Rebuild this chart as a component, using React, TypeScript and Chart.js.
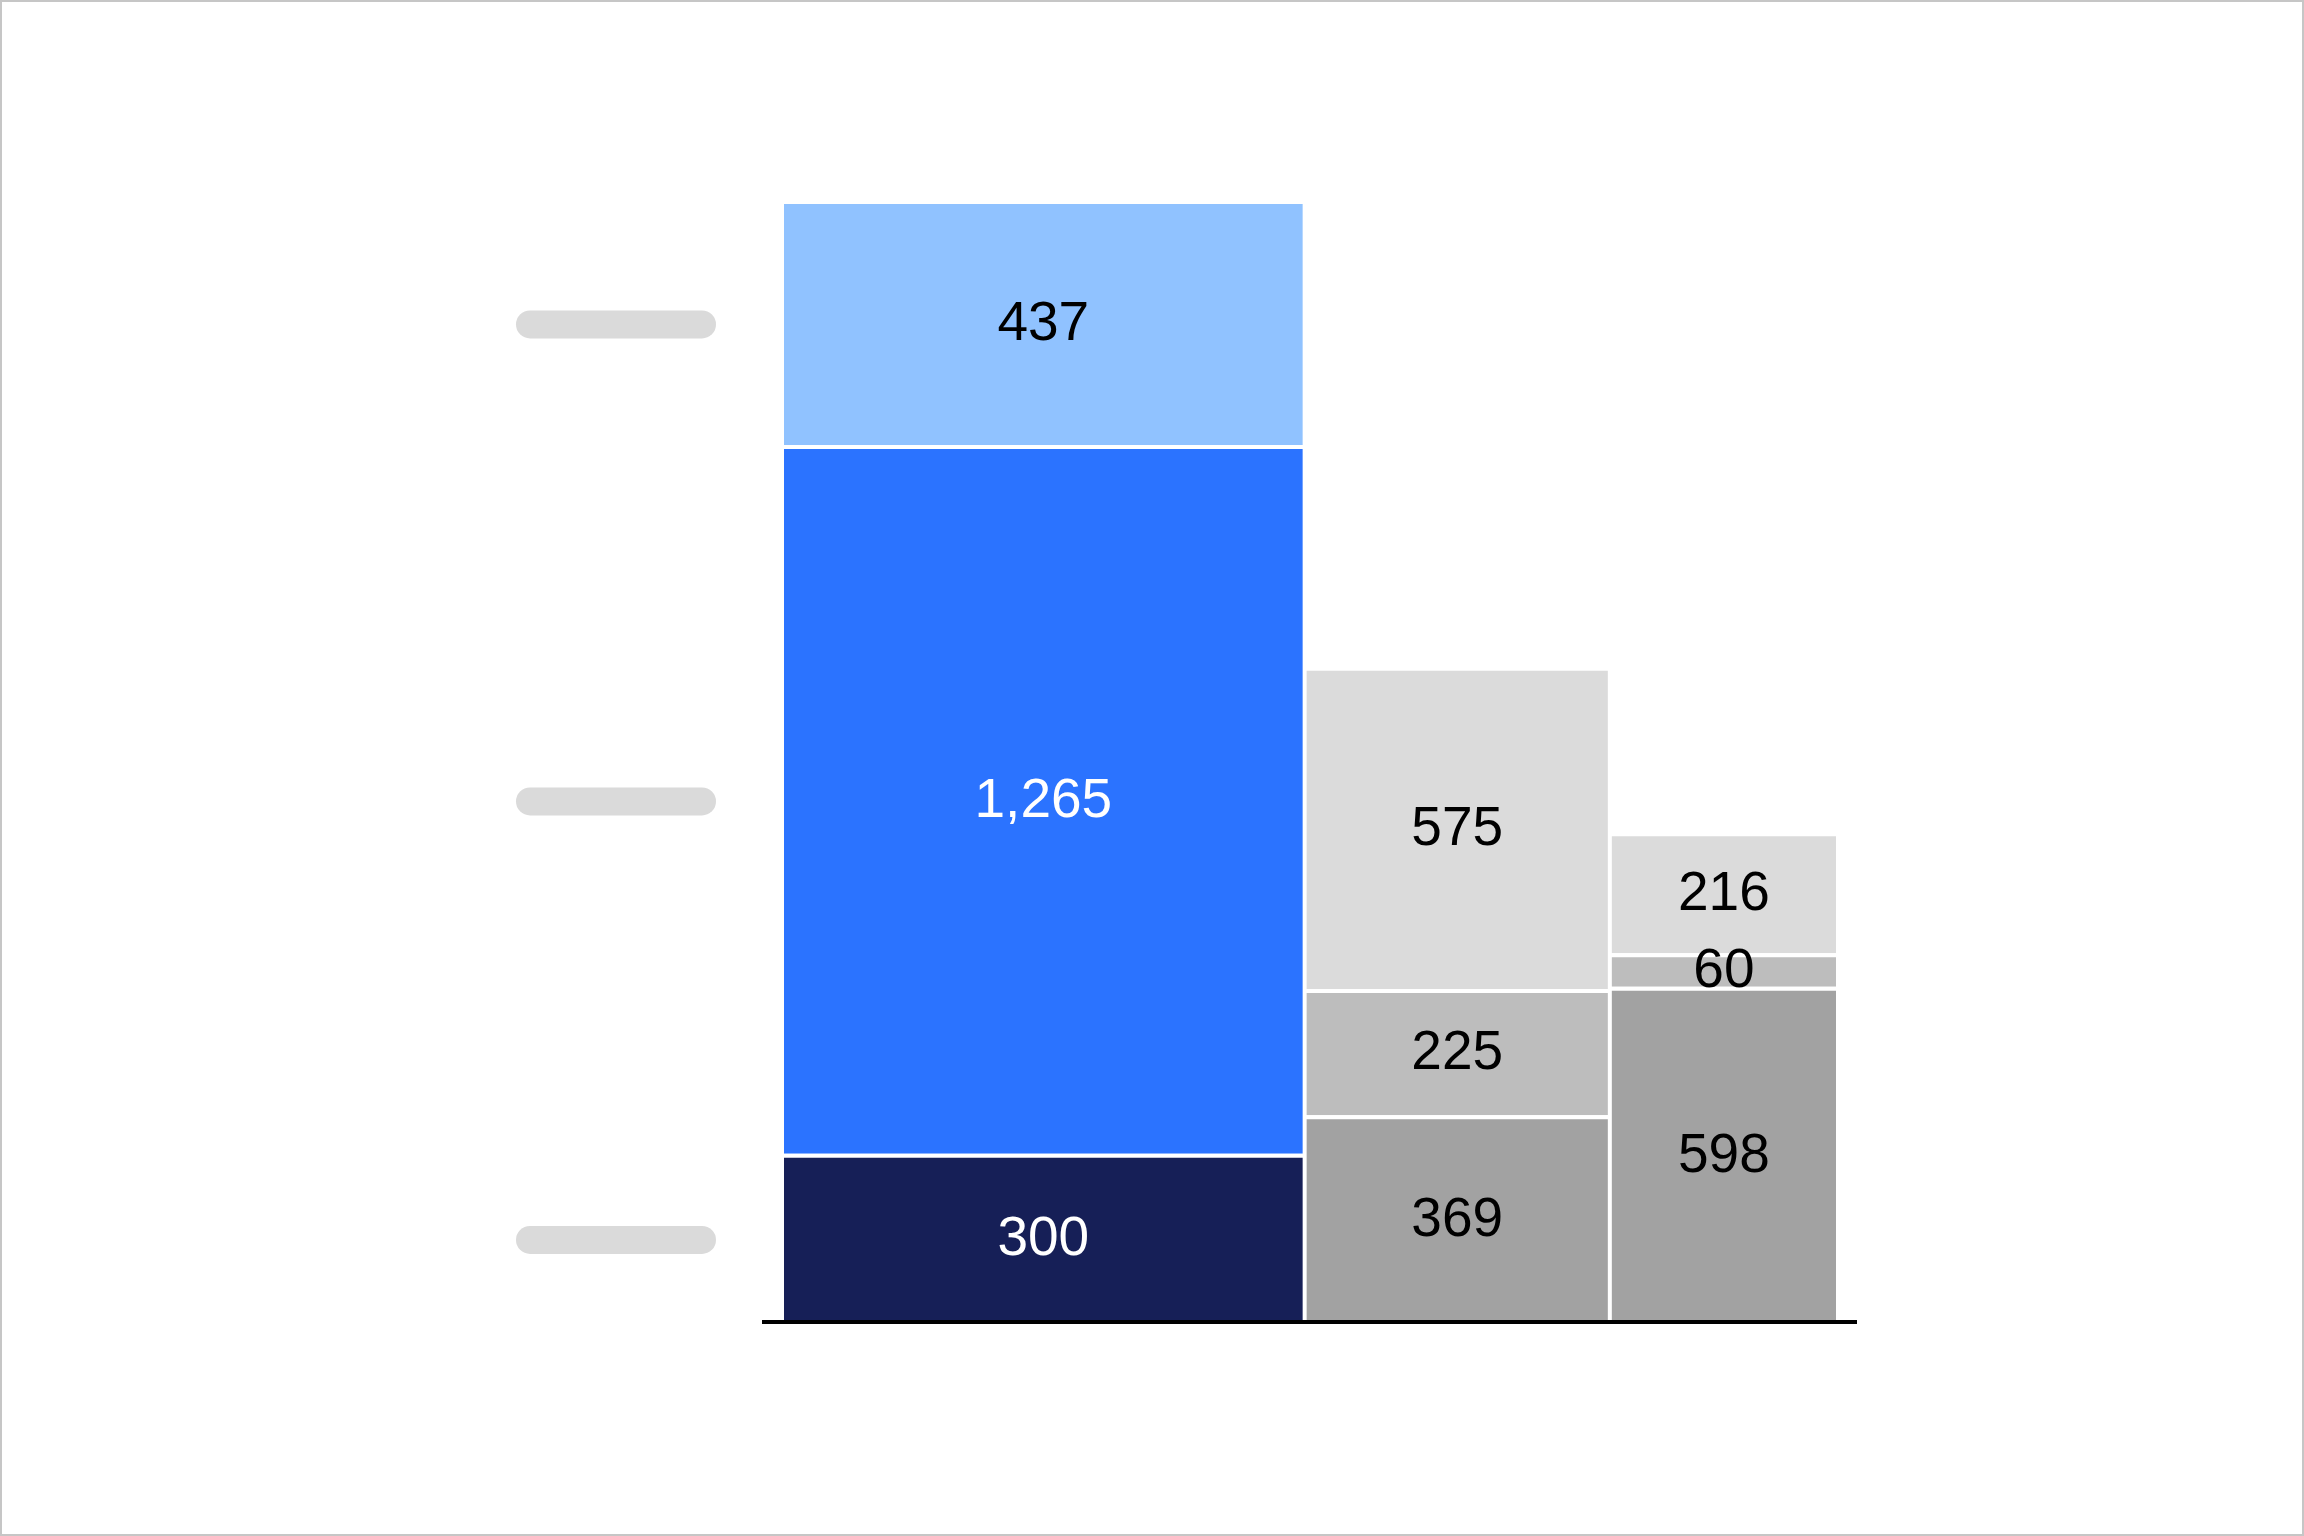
import { useEffect, useRef } from "react";
import { Chart, registerables } from "chart.js";

Chart.register(...registerables);

// one array per column, bottom segment first
const column1 = [300, 1265, 437];
const column2 = [369, 225, 575];
const column3 = [598, 60, 216];
const columns = [column1, column2, column3];

const column1Colors = ["#161F57", "#2B73FF", "#90C2FF"];
const greyColors = ["#A2A2A2", "#BDBDBD", "#DBDBDB"];
const column1LabelColors = ["#FFFFFF", "#FFFFFF", "#000000"];
const greyLabelColors = ["#000000", "#000000", "#000000"];

const sum = (arr: number[]) => arr.reduce((a, b) => a + b, 0);
const totals = columns.map(sum);
const grandTotal = sum(totals);
const starts = totals.map((_, i) => sum(totals.slice(0, i)));

const segmentLabels = {
  id: "segmentLabels",
  afterDatasetsDraw(chart: Chart) {
    const { ctx } = chart;
    ctx.save();
    ctx.font = '55px "Liberation Sans", Arial, sans-serif';
    ctx.textAlign = "center";
    ctx.textBaseline = "middle";
    chart.data.datasets.forEach((ds: any, i) => {
      const meta = chart.getDatasetMeta(i);
      const el: any = meta.data[0];
      if (!el) return;
      const value = (ds.data[0] as any).y as number;
      ctx.fillStyle = ds.labelColor;
      ctx.fillText(value.toLocaleString("en-US"), el.x, (el.y + 4 + el.base) / 2);
    });
    ctx.restore();
  },
};

// grey rounded placeholders standing in for the first column's series names
const placeholders = {
  id: "placeholders",
  afterDraw(chart: Chart) {
    const { ctx } = chart;
    ctx.save();
    ctx.fillStyle = "#DADADA";
    column1.forEach((_, s) => {
      const el: any = chart.getDatasetMeta(s).data[0];
      if (!el) return;
      const cy = (el.y + 4 + el.base) / 2;
      const x = 516;
      const w = 200;
      const h = 28;
      ctx.beginPath();
      ctx.roundRect(x, cy - h / 2, w, h, h / 2);
      ctx.fill();
    });
    ctx.restore();
  },
};

export default function App() {
  const chartRef = useRef<HTMLCanvasElement>(null);

  useEffect(() => {
    if (!chartRef.current) return;
    const ctx = chartRef.current.getContext("2d");
    if (!ctx) return;

    const datasets: any[] = [];
    columns.forEach((col, c) => {
      col.forEach((value, s) => {
        datasets.push({
          label: `col${c + 1}-${s + 1}`,
          data: [{ x: starts[c] + totals[c] / 2, y: value }],
          backgroundColor: c === 0 ? column1Colors[s] : greyColors[s],
          labelColor: c === 0 ? column1LabelColors[s] : greyLabelColors[s],
          borderColor: "#FFFFFF",
          borderWidth: { top: 4, left: 2, right: 2, bottom: 0 },
          borderSkipped: "start",
          inflateAmount: 0,
          grouped: false,
          barThickness: (context: any) => {
            const x = context.chart.scales.x;
            return x.getPixelForValue(totals[c]) - x.getPixelForValue(0);
          },
        });
      });
    });

    const pad = (grandTotal * 18) / 1056;

    const chart = new Chart(ctx, {
      type: "bar",
      data: { datasets },
      plugins: [segmentLabels, placeholders],
      options: {
        responsive: false,
        animation: false,
        layout: {
          autoPadding: false,
          padding: { left: 764, right: 448, top: 200, bottom: 214 },
        },
        plugins: {
          legend: { display: false },
          tooltip: { enabled: false },
        },
        scales: {
          x: {
            type: "linear",
            offset: false,
            min: -pad,
            max: grandTotal + pad,
            grid: { display: false, drawTicks: false, tickLength: 0 },
            ticks: { display: false },
            border: { display: true, color: "#000000", width: 4, z: 1 },
          },
          y: {
            display: false,
            stacked: true,
            min: 0,
            max: totals[0],
          },
        },
      },
    });

    return () => chart.destroy();
  }, []);

  return (
    <div
      style={{
        position: "fixed",
        left: 0,
        top: 0,
        width: 2304,
        height: 1536,
        background: "#FFFFFF",
      }}
    >
      <canvas
        ref={chartRef}
        width={2304}
        height={1536}
        style={{ position: "absolute", left: 0, top: 0, width: 2304, height: 1536 }}
      />
      <div
        style={{
          position: "absolute",
          inset: 0,
          border: "2px solid #C6C6C6",
          pointerEvents: "none",
        }}
      />
    </div>
  );
}
